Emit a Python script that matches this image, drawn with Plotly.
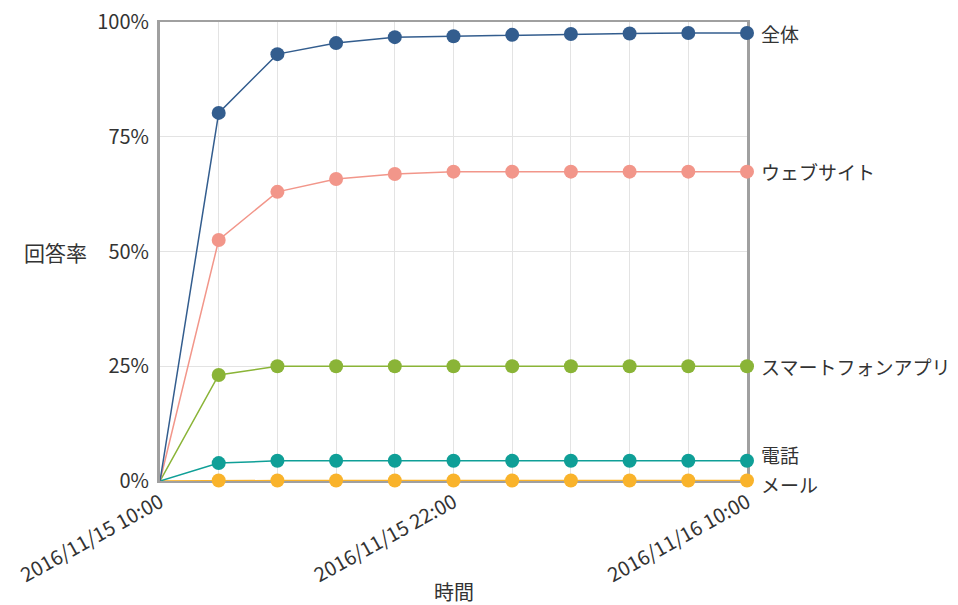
import plotly.graph_objects as go
from datetime import datetime, timedelta

start = datetime(2016, 11, 15, 10, 0)
times = [start + timedelta(minutes=144 * i) for i in range(11)]

series_names = ["全体", "ウェブサイト", "スマートフォンアプリ", "電話", "メール"]
series_values = {
    "全体": [0, 80.2, 93.0, 95.4, 96.7, 96.9, 97.2, 97.4, 97.5, 97.6, 97.6],
    "ウェブサイト": [0, 52.5, 63.0, 65.8, 66.9, 67.4, 67.4, 67.4, 67.4, 67.4, 67.4],
    "スマートフォンアプリ": [0, 23.1, 25.0, 25.0, 25.0, 25.0, 25.0, 25.0, 25.0, 25.0, 25.0],
    "電話": [0, 3.9, 4.4, 4.4, 4.4, 4.4, 4.4, 4.4, 4.4, 4.4, 4.4],
    "メール": [0, 0.1, 0.1, 0.1, 0.1, 0.1, 0.1, 0.1, 0.1, 0.1, 0.1],
}
colors = {
    "全体": "#335d8e",
    "ウェブサイト": "#f2968a",
    "スマートフォンアプリ": "#8ab437",
    "電話": "#0f9f97",
    "メール": "#f9b32b",
}
label_shift = {"全体": 0, "ウェブサイト": 0, "スマートフォンアプリ": 0, "電話": 6, "メール": -4}

y_ticks = [0, 25, 50, 75, 100]
y_ticklabels = ["0%", "25%", "50%", "75%", "100%"]
x_ticks = [times[0], times[5], times[10]]

FONT = "Noto Sans CJK JP"
TXT = "#333333"

marker_sizes = [0] + [14] * (len(times) - 1)

fig = go.Figure()
for name in reversed(series_names):
    fig.add_trace(go.Scatter(
        x=times, y=series_values[name], mode="lines+markers", name=name,
        line=dict(color=colors[name], width=1.5),
        marker=dict(color=colors[name], size=marker_sizes, symbol="circle",
                    opacity=1, line=dict(width=0)),
        cliponaxis=False, showlegend=False,
    ))

annotations = []
for name in series_names:
    annotations.append(dict(
        x=times[-1], y=series_values[name][-1], xref="x", yref="y",
        text=name, showarrow=False, xanchor="left", yanchor="middle",
        xshift=12, yshift=label_shift[name],
        font=dict(family=FONT, size=19, color=TXT),
    ))
annotations.append(dict(
    x=-0.121, y=0.5, xref="paper", yref="paper", text="回答率", showarrow=False,
    xanchor="right", yanchor="middle", font=dict(family=FONT, size=21, color=TXT),
))
annotations.append(dict(
    x=0.5, y=-(591 - 481) / 459, xref="paper", yref="paper", text="時間", showarrow=False,
    xanchor="center", yanchor="middle", font=dict(family=FONT, size=20, color=TXT),
))

fig.update_layout(
    width=958, height=605,
    margin=dict(l=160, r=211, t=22, b=124, autoexpand=False),
    paper_bgcolor="white", plot_bgcolor="white",
    font=dict(family=FONT, size=20, color=TXT),
    annotations=annotations,
    xaxis=dict(
        type="date", range=[times[0], times[-1]], automargin=False,
        tickmode="array", tickvals=x_ticks, tickformat="%Y/%m/%d %H:%M",
        tickangle=-29, ticks="", showgrid=True, gridcolor="#e3e3e3", gridwidth=1,
        minor=dict(tickmode="array", tickvals=times, showgrid=True, gridcolor="#e3e3e3", gridwidth=1),
        showline=True, linecolor="#a0a0a0", linewidth=2, mirror=True,
        zeroline=False, tickfont=dict(family=FONT, size=20, color=TXT),
        layer="below traces",
    ),
    yaxis=dict(
        range=[0, 100], tickmode="array", tickvals=y_ticks, ticktext=y_ticklabels,
        automargin=False,
        ticks="", showgrid=True, gridcolor="#e3e3e3", gridwidth=1,
        showline=True, linecolor="#a0a0a0", linewidth=3, mirror=True,
        zeroline=False, tickfont=dict(family=FONT, size=20, color=TXT),
        ticklabelstandoff=4, layer="below traces",
    ),
)

fig.write_html("out.html")
